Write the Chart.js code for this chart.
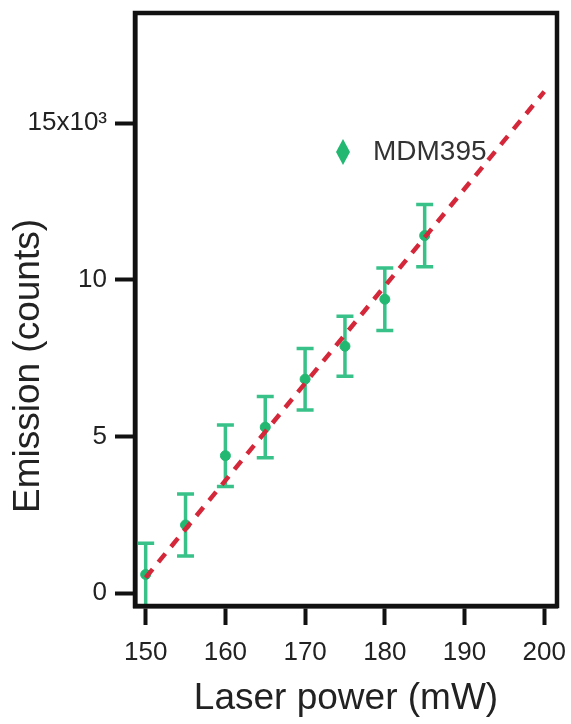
<!DOCTYPE html>
<html>
<head>
<meta charset="utf-8">
<script src="https://cdn.jsdelivr.net/npm/chart.js@4.4.1/dist/chart.umd.min.js"></script>
<style>
    html, body { margin: 0; padding: 0; background: #fff; }
    #wrap { width: 571px; height: 724px; }
</style>
</head>
<body>
<div id="wrap"><canvas id="myChart"></canvas></div>
<script>
// Laser power (mW)
var powerVals = [150, 155, 160, 165, 170, 175, 180, 185];
// Emission (counts) and error bar half-heights
var emissionVals = [600, 2180, 4390, 5300, 6830, 7880, 9380, 11410];
var errVals = [1000, 990, 980, 980, 980, 960, 1000, 990];
// Dashed linear fit, end points
var fitX = [150, 200];
var fitY = [500, 16000];
// Ticks
var xTickVals = [150, 160, 170, 180, 190, 200];
var yTickVals = [0, 5000, 10000, 15000];
var yTickLabels = ['0', '5', '10', '15x10³'];
var seriesName = 'MDM395';

var FONT = '"Liberation Sans", Arial, sans-serif';
var TEXT = '#222';
var GREEN = '#22b872';
var BAR_GREEN = '#38c289';

var points = powerVals.map(function (x, i) {
    return { x: x, y: emissionVals[i] };
});
var fitLine = fitX.map(function (x, i) {
    return { x: x, y: fitY[i] };
});

// Error bars, drawn under the points and the fit
var errorBars = {
    id: 'errorBars',
    beforeDatasetsDraw: function (chart) {
        var ctx = chart.ctx;
        var xs = chart.scales.x, ys = chart.scales.y;
        var area = chart.chartArea;
        ctx.save();
        ctx.beginPath();
        ctx.rect(area.left, area.top, area.right - area.left, area.bottom - area.top);
        ctx.clip();
        ctx.strokeStyle = BAR_GREEN;
        ctx.lineWidth = 3.5;
        powerVals.forEach(function (x, i) {
            var px = xs.getPixelForValue(x);
            var top = ys.getPixelForValue(emissionVals[i] + errVals[i]);
            var bot = ys.getPixelForValue(emissionVals[i] - errVals[i]);
            ctx.beginPath();
            ctx.moveTo(px, top); ctx.lineTo(px, bot);
            ctx.moveTo(px - 8.5, top); ctx.lineTo(px + 8.5, top);
            ctx.moveTo(px - 8.5, bot); ctx.lineTo(px + 8.5, bot);
            ctx.stroke();
        });
        ctx.restore();
    }
};

// Box frame, legend and y title
var decor = {
    id: 'decor',
    afterDraw: function (chart) {
        var ctx = chart.ctx;
        var a = chart.chartArea;
        ctx.save();
        ctx.strokeStyle = '#111';
        ctx.lineWidth = 4.5;
        ctx.strokeRect(a.left, a.top, a.right - a.left, a.bottom - a.top);

        // legend inside the plot
        var lx = a.left + 208, ly = a.top + 139;
        ctx.fillStyle = GREEN;
        ctx.beginPath();
        ctx.moveTo(lx, ly - 13);
        ctx.lineTo(lx + 7, ly);
        ctx.lineTo(lx, ly + 13);
        ctx.lineTo(lx - 7, ly);
        ctx.closePath();
        ctx.fill();
        ctx.fillStyle = '#333';
        ctx.font = '28px ' + FONT;
        ctx.textAlign = 'left';
        ctx.textBaseline = 'middle';
        ctx.fillText(seriesName, lx + 30, ly);

        // y axis title
        ctx.translate(29, 366);
        ctx.rotate(-Math.PI / 2);
        ctx.fillStyle = TEXT;
        ctx.font = '37px ' + FONT;
        ctx.textAlign = 'center';
        ctx.fillText('Emission (counts)', 0, 0);
        ctx.restore();
    }
};

var ctx = document.getElementById('myChart').getContext('2d');
var myChart = new Chart(ctx, {
    type: 'scatter',
    data: {
        datasets: [{
            type: 'line',
            label: 'fit',
            data: fitLine,
            borderColor: '#d4283a',
            borderWidth: 4.5,
            borderDash: [11, 9],
            pointRadius: 0,
            fill: false,
            order: 0
        }, {
            label: seriesName,
            data: points,
            backgroundColor: GREEN,
            borderColor: GREEN,
            pointRadius: 5,
            order: 1
        }]
    },
    plugins: [errorBars, decor],
    options: {
        responsive: true,
        maintainAspectRatio: false,
        animation: false,
        layout: { padding: { top: 13, right: 14, left: 0, bottom: 0 } },
        scales: {
            x: {
                type: 'linear',
                min: 148.66,
                max: 201.6,
                afterBuildTicks: function (scale) {
                    scale.ticks = xTickVals.map(function (v) { return { value: v }; });
                },
                afterFit: function (scale) {
                    scale.height = 118;
                    scale.paddingLeft = 0;
                    scale.paddingRight = 0;
                },
                grid: {
                    drawOnChartArea: false,
                    drawTicks: true,
                    tickLength: 19,
                    tickWidth: 4,
                    tickColor: '#111'
                },
                border: { display: true, color: '#111', width: 4.5 },
                ticks: {
                    padding: 12,
                    color: TEXT,
                    font: { family: FONT, size: 26 },
                    maxRotation: 0,
                    callback: function (v) { return String(v); }
                },
                title: {
                    display: true,
                    text: 'Laser power (mW)',
                    color: TEXT,
                    font: { family: FONT, size: 37 },
                    padding: { top: 0, bottom: 3 }
                }
            },
            y: {
                type: 'linear',
                min: -405,
                max: 18510,
                afterBuildTicks: function (scale) {
                    scale.ticks = yTickVals.map(function (v) { return { value: v }; });
                },
                afterFit: function (scale) {
                    scale.width = 135;
                    scale.paddingTop = 0;
                    scale.paddingBottom = 0;
                },
                grid: {
                    drawOnChartArea: false,
                    drawTicks: true,
                    tickLength: 20,
                    tickWidth: 4,
                    tickColor: '#111'
                },
                border: { display: true, color: '#111', width: 4.5 },
                ticks: {
                    padding: 8,
                    color: TEXT,
                    font: { family: FONT, size: 26 },
                    callback: function (v) {
                        var i = yTickVals.indexOf(v);
                        return i >= 0 ? yTickLabels[i] : '';
                    }
                }
            }
        },
        plugins: {
            legend: { display: false },
            tooltip: { enabled: false }
        }
    }
});
</script>
</body>
</html>
